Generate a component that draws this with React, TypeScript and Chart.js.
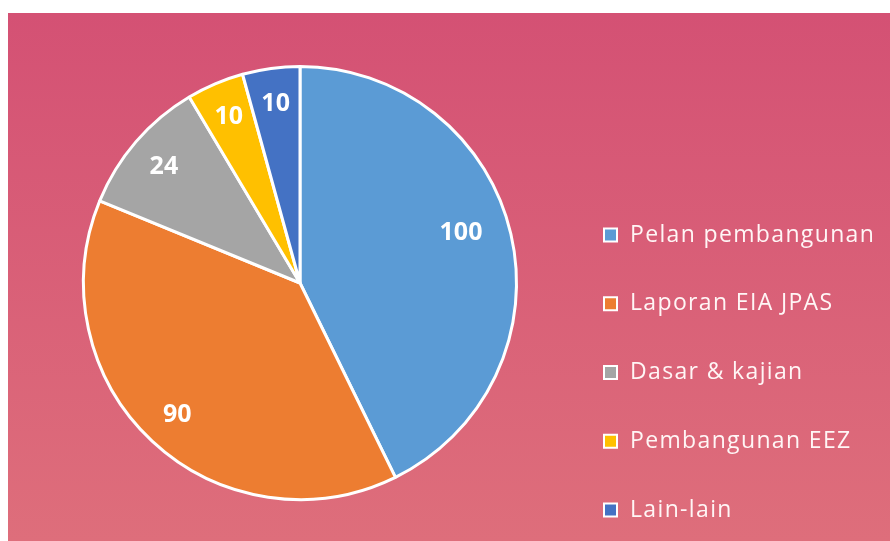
import React, { useEffect, useRef } from "react";
import { Chart, registerables } from "chart.js";

Chart.register(...registerables);

const categories = [
  "Pelan pembangunan",
  "Laporan EIA JPAS",
  "Dasar & kajian",
  "Pembangunan EEZ",
  "Lain-lain",
];
const values = [100, 90, 24, 10, 10];
const colors = ["#5B9BD5", "#ED7D31", "#A5A5A5", "#FFC000", "#4472C4"];
const labelRadius = [0.78, 0.83, 0.83, 0.84, 0.84];
const labelAngleShiftDeg = [-4.5, 0, 0, 0, 0];

const valueLabels = {
  id: "valueLabels",
  afterDatasetsDraw(chart: any) {
    const ctx = chart.ctx;
    const meta = chart.getDatasetMeta(0);
    ctx.save();
    (ctx as any).letterSpacing = "0px";
    ctx.fillStyle = "#ffffff";
    ctx.font = "bold 25px 'Open Sans'";
    ctx.textAlign = "center";
    ctx.textBaseline = "middle";
    meta.data.forEach((arc: any, i: number) => {
      const { x, y, startAngle, endAngle, outerRadius } = arc.getProps(
        ["x", "y", "startAngle", "endAngle", "outerRadius"],
        true
      );
      const mid = (startAngle + endAngle) / 2 + (labelAngleShiftDeg[i] * Math.PI) / 180;
      const r = outerRadius * labelRadius[i];
      ctx.fillText(String(values[i]), x + Math.cos(mid) * r, y + Math.sin(mid) * r + 1);
    });
    ctx.restore();
  },
};

const sideLegend = {
  id: "sideLegend",
  afterDraw(chart: any) {
    const ctx = chart.ctx;
    const boxX = chart.chartArea.right + 12;
    const textX = boxX + 26;
    const firstY = 222;
    const step = 68.75;
    ctx.save();
    categories.forEach((label, i) => {
      const cy = firstY + i * step;
      ctx.fillStyle = colors[i];
      ctx.fillRect(boxX, cy - 6.5, 13, 13);
      ctx.strokeStyle = "#ffffff";
      ctx.lineWidth = 2;
      ctx.strokeRect(boxX, cy - 6.5, 13, 13);
      (ctx as any).letterSpacing = "1.35px";
      ctx.fillStyle = "#fff6f6";
      ctx.font = "23px 'Open Sans'";
      ctx.textAlign = "left";
      ctx.textBaseline = "middle";
      ctx.fillText(label, textX, cy);
    });
    ctx.restore();
  },
};

export default function App() {
  const ref = useRef<HTMLCanvasElement>(null);
  useEffect(() => {
    if (!ref.current) return;
    const chart = new Chart(ref.current, {
      type: "pie",
      data: {
        labels: categories,
        datasets: [
          {
            data: values,
            backgroundColor: colors,
            borderColor: "#ffffff",
            borderWidth: 3,
          },
        ],
      },
      options: {
        animation: false,
        responsive: true,
        maintainAspectRatio: false,
        layout: { padding: { left: 0, right: 298, top: 52, bottom: 40 } },
        plugins: {
          tooltip: { enabled: false },
          legend: { display: false },
        },
      },
      plugins: [valueLabels, sideLegend],
    });
    return () => chart.destroy();
  }, []);
  return (
    <div
      style={{
        position: "absolute",
        left: 8,
        top: 13,
        width: 882,
        height: 528,
        background: "linear-gradient(to bottom, #d45174, #de6e7b)",
      }}
    >
      <canvas ref={ref} />
    </div>
  );
}
